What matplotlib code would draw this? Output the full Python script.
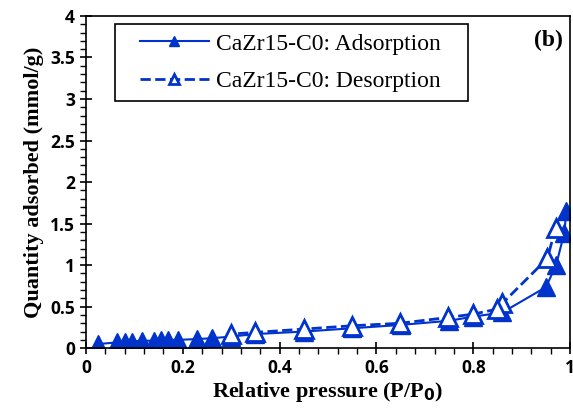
import numpy as np
import matplotlib
matplotlib.use("Agg")
import matplotlib.pyplot as plt
from matplotlib.ticker import MultipleLocator
from matplotlib.patches import Rectangle

# ======================
# Data
# ======================
ads_x = [0.025, 0.065, 0.08, 0.095, 0.115, 0.14, 0.155, 0.17, 0.19, 0.23, 0.26,
         0.30, 0.35, 0.45, 0.55, 0.65, 0.75, 0.80, 0.86, 0.95, 0.971, 0.988, 0.992]
ads_y = [0.05, 0.07, 0.08, 0.08, 0.09, 0.09, 0.10, 0.10, 0.10, 0.11, 0.12,
         0.14, 0.17, 0.20, 0.24, 0.28, 0.33, 0.38, 0.43, 0.735, 1.00, 1.39, 1.65]

des_x = [0.97, 0.953, 0.86, 0.849, 0.80, 0.748, 0.649, 0.55, 0.45, 0.35, 0.30]
des_y = [1.45, 1.08, 0.54, 0.47, 0.41, 0.37, 0.30, 0.27, 0.23, 0.19, 0.17]

COLOR = '#0033cc'

# ======================
# Figure
# ======================
fig = plt.figure(figsize=(5.73, 4.19), dpi=100)
ax = fig.add_axes([0.150, 0.169, 0.845, 0.793])

ax.plot(ads_x, ads_y, '-', color=COLOR, lw=1.5, marker='^', ms=12.5,
        mfc=COLOR, mec=COLOR, label='CaZr15-C0: Adsorption')
ax.plot(des_x, des_y, '--', color=COLOR, lw=2, marker='^', ms=12.5,
        mfc='white', mec=COLOR, mew=2, label='CaZr15-C0: Desorption')

ax.set_xlim(0, 1)
ax.set_ylim(0, 4)
ax.xaxis.set_major_locator(MultipleLocator(0.2))
ax.xaxis.set_minor_locator(MultipleLocator(0.04))
ax.yaxis.set_major_locator(MultipleLocator(0.5))
ax.yaxis.set_minor_locator(MultipleLocator(0.1))
ax.set_xticks([0, 0.2, 0.4, 0.6, 0.8, 1.0], ['0', '0.2', '0.4', '0.6', '0.8', '1'])
ax.set_yticks([0, 0.5, 1, 1.5, 2, 2.5, 3, 3.5, 4],
              ['0', '0.5', '1', '1.5', '2', '2.5', '3', '3.5', '4'])
ax.tick_params(which='major', direction='inout', length=8, width=1.2,
               labelsize=12.5, pad=4)
ax.tick_params(which='minor', direction='out', length=4, width=1)
for lab in ax.get_xticklabels() + ax.get_yticklabels():
    lab.set_fontfamily('Open Sans')
    lab.set_fontweight('bold')
for sp in ax.spines.values():
    sp.set_linewidth(1.2)

ax.set_xlabel('Relative pressure (P/P$_\\mathbf{0}$)', family='Liberation Serif',
              fontweight='bold', fontsize=16, labelpad=2)
ax.set_ylabel('Quantity adsorbed (mmol/g)', family='Liberation Serif',
              fontweight='bold', fontsize=16, labelpad=4)

ax.text(0.985, 0.925, '(b)', transform=ax.transAxes, ha='right', va='center',
        family='Liberation Serif', fontweight='bold', fontsize=17)

# legend: entries without frame, box drawn separately (wider side padding)
leg = ax.legend(loc='upper left', bbox_to_anchor=(0.112, 0.948), frameon=False,
                prop={'family': 'Liberation Serif', 'size': 17},
                handlelength=2.9, handletextpad=0.3, borderpad=0,
                labelspacing=0.68, borderaxespad=0, markerscale=0.55)
ax.add_patch(Rectangle((0.060, 0.744), 0.729, 0.232, transform=ax.transAxes,
                       fill=False, edgecolor='black', lw=1.2, zorder=5))

plt.savefig('out.png', dpi=100)
